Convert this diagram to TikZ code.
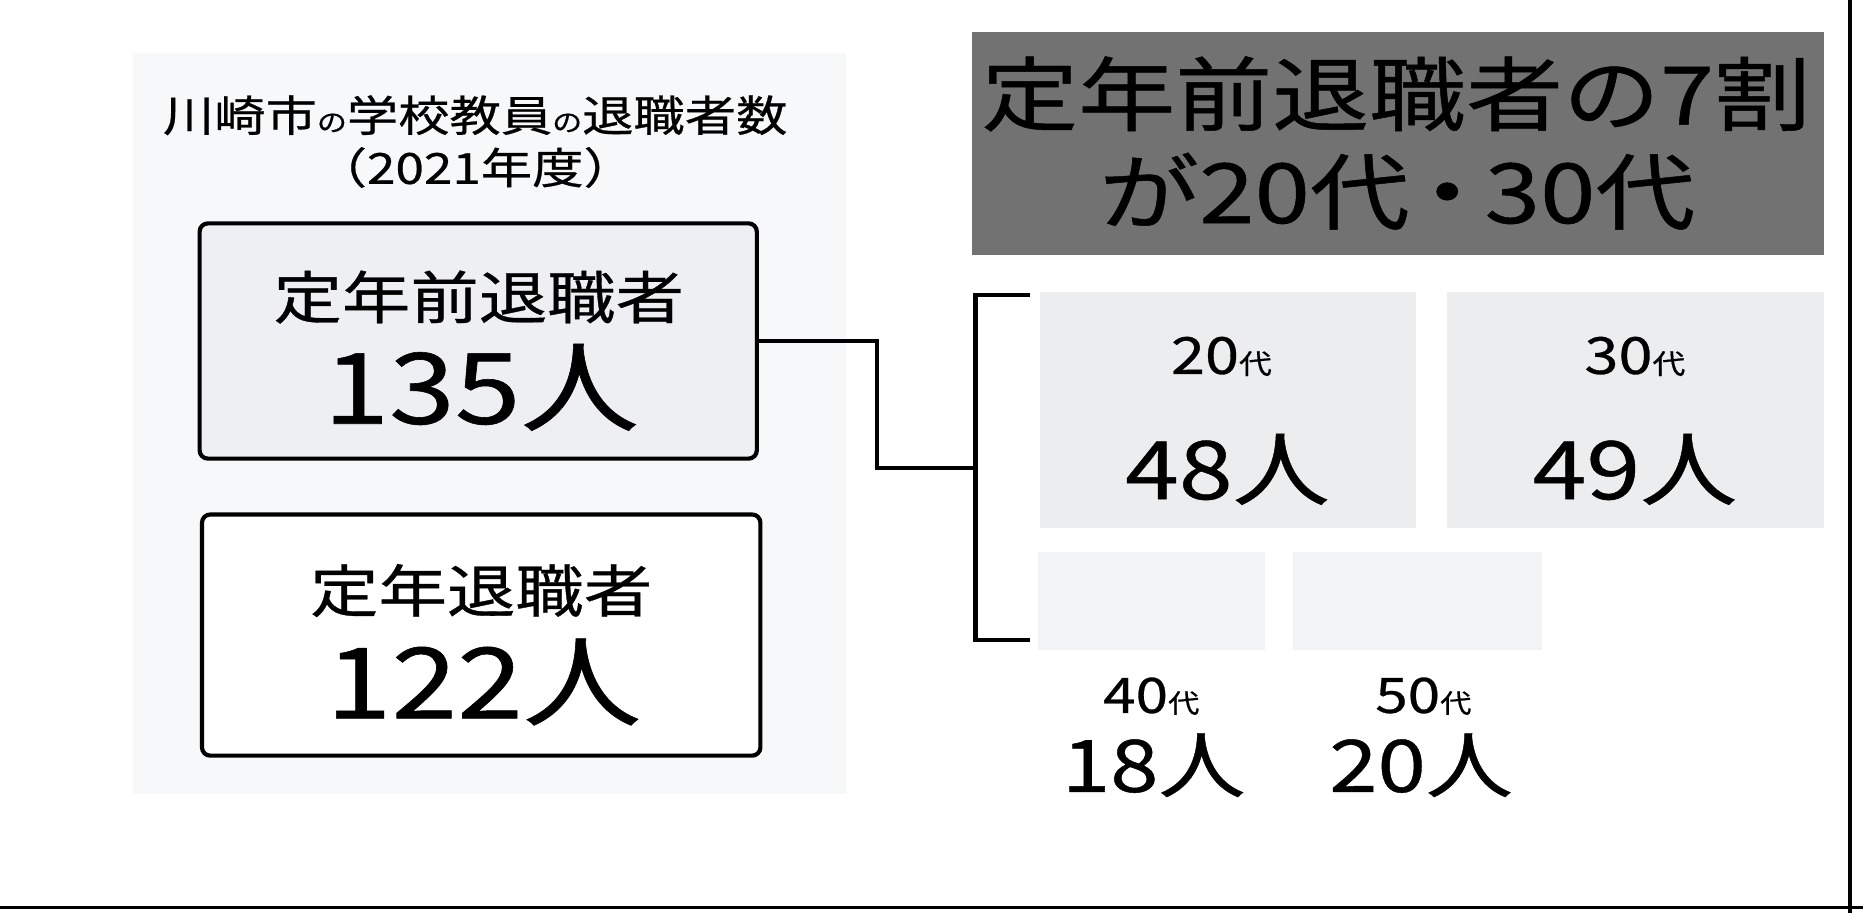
\documentclass[tikz,border=0pt]{standalone}
\usepackage{fontspec}
\setmainfont{Noto Sans CJK JP}[FakeStretch=1.2,FakeBold=0.6]
\newcommand\fsz[1]{\fontsize{#1}{#1}\selectfont}
\definecolor{panelbg}{RGB}{247,248,249}
\definecolor{boxfill}{RGB}{237,239,242}
\definecolor{darkfill}{RGB}{114,114,114}
\definecolor{greyfill}{RGB}{236,237,239}
\definecolor{paleFill}{RGB}{242,243,244}
\begin{document}
\begin{tikzpicture}[x=1pt,y=-1pt,
  box/.style={draw=black, line width=3.5pt, rounded corners=7pt, inner sep=0pt},
  conn/.style={draw=black, line width=3.5pt},
  tile/.style={inner sep=0pt, draw=none},
  tx/.style={inner sep=0pt, anchor=center, text=black}]
\path[use as bounding box] (0,0) rectangle (1568,768);
\fill[white] (0,0) rectangle (1568,768);
% left panel background
\fill[panelbg] (112,45) rectangle (712,668);
% title
\node[tx, font=\fsz{36}] (t1) at (400,97) {川崎市{\fsz{21}の}学校教員{\fsz{21}の}退職者数};
\node[tx, font=\fsz{36}] (t2) at (400,141) {（2021年度）};
% left boxes
\node[box, fill=boxfill, minimum width=469pt, minimum height=198pt] (pre) at (402.5,287) {};
\node[tx, font=\fsz{48}] (preL) at (403,250) {定年前退職者};
\node[tx, font=\fsz{83}] (preN) at (405,326) {135人};
\node[box, fill=white, minimum width=470pt, minimum height=203pt] (ret) at (405,534.5) {};
\node[tx, font=\fsz{48}] (retL) at (405,497) {定年退職者};
\node[tx, font=\fsz{83}] (retN) at (407,574) {122人};
% headline box
\node[tile, fill=darkfill, minimum width=717pt, minimum height=188pt] (head) at (1176.5,121) {};
\node[tx, font=\fsz{68}] (h1) at (1175,79) {定年前退職者の7割};
\node[tx, font=\fsz{70}] (h2) at (1176,161) {が20代\kern-0.15em・\kern-0.15em30代};
% age tiles
\node[tile, fill=greyfill, minimum width=317pt, minimum height=198pt] (g20) at (1033.5,345) {};
\node[tile, fill=greyfill, minimum width=317pt, minimum height=198pt] (g30) at (1376.5,345) {};
\node[tile, fill=paleFill, minimum width=191pt, minimum height=82pt] (g40) at (969.5,506) {};
\node[tile, fill=paleFill, minimum width=210pt, minimum height=82pt] (g50) at (1193,506) {};
\node[tx, font=\fsz{43}] (l20) at (1028,300) {20{\fsz{23}代}};
\node[tx, font=\fsz{68}] (n20) at (1033,395) {48人};
\node[tx, font=\fsz{43}] (l30) at (1376,300) {30{\fsz{23}代}};
\node[tx, font=\fsz{68}] (n30) at (1376,395) {49人};
\node[tx, font=\fsz{41}] (l40) at (969,586) {40{\fsz{22}代}};
\node[tx, font=\fsz{61}] (n40) at (971,644) {18人};
\node[tx, font=\fsz{41}] (l50) at (1198,586) {50{\fsz{22}代}};
\node[tx, font=\fsz{61}] (n50) at (1196,644) {20人};
% connector and bracket
\coordinate (jx) at (738,287);
\coordinate (brm) at (821,394);
\coordinate (brt) at (867,248);
\coordinate (brb) at (867,539);
\draw[conn] (pre.east) -- (jx) |- (brm);
\draw[conn] (brt) -- (brt -| brm) -- (brb -| brm) -- (brb);
% scan edges
\coordinate (eTop) at (1557,0);
\coordinate (eBot) at (1557,768);
\coordinate (bL) at (0,764);
\coordinate (bR) at (1568,764);
\draw[line width=3pt] (eTop) -- (eBot);
\draw[line width=2.5pt] (bL) -- (bR);
\end{tikzpicture}
\end{document}
